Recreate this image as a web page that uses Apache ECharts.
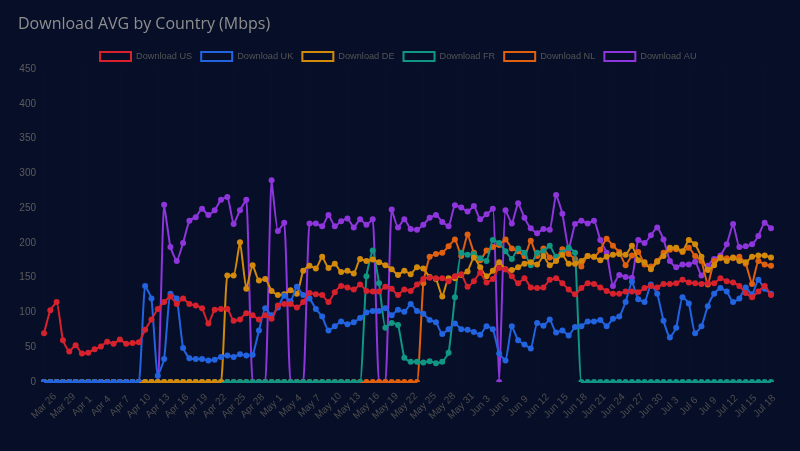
<!DOCTYPE html>
<html>
<head>
<meta charset="utf-8">
<title>Download AVG by Country</title>
<script src="https://cdn.jsdelivr.net/npm/echarts@6/dist/echarts.min.js"></script>
<style>
html,body{margin:0;padding:0;background:#070f28;}
#chart{width:800px;height:451px;}
</style>
</head>
<body>
<div id="chart"></div>
<script>
var categories = ['Mar 26','Mar 27','Mar 28','Mar 29','Mar 30','Mar 31','Apr 1','Apr 2','Apr 3','Apr 4','Apr 5','Apr 6','Apr 7','Apr 8','Apr 9','Apr 10','Apr 11','Apr 12','Apr 13','Apr 14','Apr 15','Apr 16','Apr 17','Apr 18','Apr 19','Apr 20','Apr 21','Apr 22','Apr 23','Apr 24','Apr 25','Apr 26','Apr 27','Apr 28','Apr 29','Apr 30','May 1','May 2','May 3','May 4','May 5','May 6','May 7','May 8','May 9','May 10','May 11','May 12','May 13','May 14','May 15','May 16','May 17','May 18','May 19','May 20','May 21','May 22','May 23','May 24','May 25','May 26','May 27','May 28','May 29','May 30','May 31','Jun 1','Jun 2','Jun 3','Jun 4','Jun 5','Jun 6','Jun 7','Jun 8','Jun 9','Jun 10','Jun 11','Jun 12','Jun 13','Jun 14','Jun 15','Jun 16','Jun 17','Jun 18','Jun 19','Jun 20','Jun 21','Jun 22','Jun 23','Jun 24','Jun 25','Jun 26','Jun 27','Jun 28','Jun 29','Jun 30','Jul 1','Jul 2','Jul 3','Jul 4','Jul 5','Jul 6','Jul 7','Jul 8','Jul 9','Jul 10','Jul 11','Jul 12','Jul 13','Jul 14','Jul 15','Jul 16','Jul 17','Jul 18','Jul 19'];

var downloadUS = [70,103,115,60,44,53,41,42,47,51,58,55,61,55,56,57,75,90,105,115,123,112,120,112,110,106,84,104,105,105,88,90,99,96,90,96,91,110,112,112,107,115,128,126,125,115,129,138,136,133,140,131,130,130,137,134,125,133,131,140,148,150,149,149,145,152,155,137,145,157,143,148,164,162,152,142,149,136,135,136,147,149,142,133,126,135,142,141,136,131,127,127,130,130,129,135,138,136,141,141,142,147,143,142,141,142,142,149,145,143,138,128,122,130,138,125];
var downloadUK = [0,0,0,0,0,0,0,0,0,0,0,0,0,0,0,0,138,120,9,33,127,120,49,34,33,33,31,32,36,38,36,40,38,39,74,106,96,107,124,116,137,125,120,105,94,74,80,87,83,86,92,100,102,102,106,96,104,101,112,102,98,89,86,69,76,84,76,75,72,68,80,76,41,31,80,60,54,48,85,81,90,71,74,67,79,80,87,87,89,80,91,94,115,144,119,115,140,127,88,64,78,122,113,70,80,109,127,135,130,115,120,136,126,147,134,127];
var downloadDE = [0,0,0,0,0,0,0,0,0,0,0,0,0,0,0,0,0,0,0,0,0,0,0,0,0,0,0,0,0,153,153,201,134,168,146,148,131,125,126,132,127,160,167,163,180,164,170,158,160,156,177,174,176,172,168,162,154,160,155,165,163,151,148,123,149,149,154,159,179,165,152,160,172,162,161,165,170,172,169,181,168,174,183,170,170,174,181,180,175,180,183,184,183,196,175,172,162,173,181,193,193,188,204,198,180,161,168,179,174,179,174,172,180,182,182,179];
var downloadFR = [0,0,0,0,0,0,0,0,0,0,0,0,0,0,0,0,0,0,0,0,0,0,0,0,0,0,0,0,0,0,0,0,0,0,0,0,0,0,0,0,0,0,0,0,0,0,0,0,0,0,0,152,189,142,78,85,82,35,29,29,28,30,27,29,42,122,186,183,184,178,174,204,200,188,177,192,186,168,186,188,196,180,186,193,186,0,0,0,0,0,0,0,0,0,0,0,0,0,0,0,0,0,0,0,0,0,0,0,0,0,0,0,0,0,0,0];
var downloadNL = [0,0,0,0,0,0,0,0,0,0,0,0,0,0,0,0,0,0,0,0,0,0,0,0,0,0,0,0,0,0,0,0,0,0,0,0,0,0,0,0,0,0,0,0,0,0,0,0,0,0,0,0,0,0,0,0,0,0,0,0,142,180,184,186,195,205,181,212,186,175,189,194,197,205,192,188,181,203,181,192,179,178,191,184,177,166,181,180,190,206,196,187,168,182,187,169,166,174,186,190,191,187,193,181,174,140,174,178,178,178,180,170,141,174,169,167];
var downloadAU = [0,0,0,0,0,0,0,0,0,0,0,0,0,0,0,0,0,0,0,255,194,174,200,232,237,249,240,247,262,266,227,247,262,0,0,0,290,217,229,0,0,0,228,228,224,240,224,231,235,222,234,226,234,0,0,248,222,234,220,219,226,236,240,230,224,254,251,245,253,234,241,249,0,247,228,257,236,221,214,220,219,269,242,191,227,232,228,232,204,186,138,154,151,150,204,200,211,222,205,174,165,169,169,173,153,167,177,182,198,227,194,195,198,210,229,221];

var seriesNames = ['Download US','Download UK','Download DE','Download FR','Download NL','Download AU'];
var seriesValues = [downloadUS,downloadUK,downloadDE,downloadFR,downloadNL,downloadAU];
var seriesColors = ['#d7222d','#2263e0','#d38a0a','#109683','#e0600f','#8e35dc'];

// dots at zero show only their top half, like a clipped point
var domeSymbol = 'path://M0 5A5 5 0 0 1 10 5ZM0 10L0 10Z';

var myChart = echarts.init(document.getElementById('chart'));

var series = [];
for (var i = 0; i < seriesNames.length; i++) {
	series.push({
		name: seriesNames[i],
		type: 'line',
		data: seriesValues[i],
		z: 6 - i,      // first series sits on top
		smooth: 0.15,
		symbol: function (value) {
			return value === 0 ? domeSymbol : 'circle';
		},
		symbolSize: 6,
		showSymbol: true,
		showAllSymbol: true,
		lineStyle: { width: 2, color: seriesColors[i] },
		itemStyle: { color: seriesColors[i], borderWidth: 0 }
	});
}

var option = {
	backgroundColor: '#070f28',
	animation: false,
	color: seriesColors,
	title: {
		text: 'Download AVG by Country (Mbps)',
		left: 13,
		top: 11,
		textStyle: { color: '#8f8f8f', fontSize: 16, fontWeight: 'normal', fontFamily: 'Open Sans' }
	},
	legend: {
		top: 46,
		left: 94,
		data: seriesNames.map(function (n, k) {
			return {
				name: n,
				itemStyle: { color: 'transparent', borderColor: seriesColors[k], borderWidth: 2 }
			};
		}),
		icon: 'rect',
		itemWidth: 31,
		itemHeight: 9,
		itemGap: 8,
		textStyle: { color: '#555', fontSize: 9.2, fontFamily: 'Liberation Sans' }
	},
	grid: { left: 44, right: 29, top: 69, bottom: 69 },
	xAxis: {
		type: 'category',
		data: categories,
		boundaryGap: false,
		axisLine: { show: false },
		axisTick: { show: false },
		splitLine: { show: true, interval: 5, lineStyle: { color: 'rgba(255,255,255,0.012)' } },
		axisLabel: { interval: 2, rotate: 45, align: 'center', verticalAlign: 'middle', color: '#4d4d4d', fontSize: 10, margin: 24, fontFamily: 'Liberation Sans', hideOverlap: false }
	},
	yAxis: {
		type: 'value',
		min: 0,
		max: 450,
		interval: 50,
		axisLine: { show: false },
		axisTick: { show: false },
		splitLine: { show: true, lineStyle: { color: 'rgba(255,255,255,0.008)' } },
		axisLabel: { color: '#5c5c5c', fontSize: 10, margin: 8, fontFamily: 'Liberation Sans' }
	},
	series: series
};
myChart.setOption(option);
</script>
</body>
</html>
